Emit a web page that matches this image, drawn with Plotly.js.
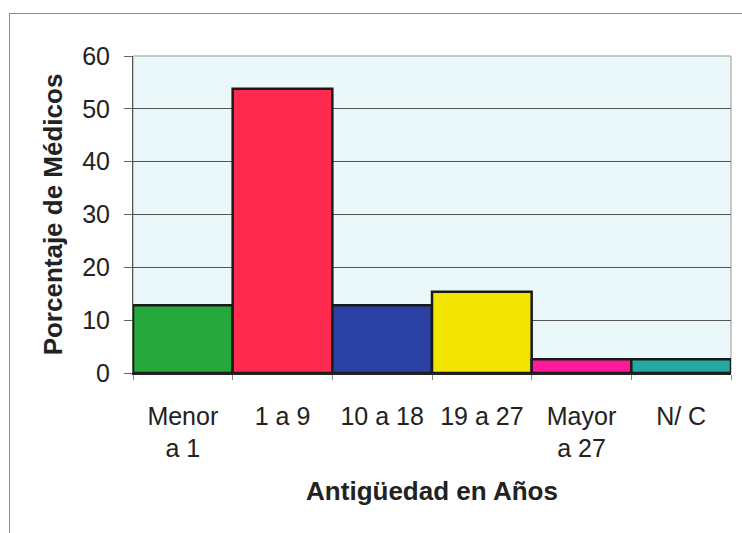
<!DOCTYPE html>
<html>
<head>
<meta charset="utf-8">
<script src="https://cdn.plot.ly/plotly-3.0.1.min.js"></script>
<style>
  html, body { margin:0; padding:0; background:#ffffff; overflow:hidden; }
  #frame { position:absolute; left:9px; top:13px; width:800px; height:600px; border:1px solid #8c8c8c; box-sizing:border-box; }
  #chart { position:absolute; left:0; top:0; width:742px; height:533px; }
</style>
</head>
<body>
<div id="frame"></div>
<div id="chart"></div>
<script>
const categories = ["Menor<br>a 1", "1 a 9", "10 a 18", "19 a 27", "Mayor<br>a 27", "N/ C"];
const porcentaje = [12.8, 53.8, 12.8, 15.4, 2.6, 2.6];
const barColors = ["#26a83c", "#ff2a50", "#2a40a2", "#f2e400", "#ff1a9a", "#22aaa2"];
const yTicks = [0, 10, 20, 30, 40, 50, 60];

const trace = {
  type: "bar",
  x: categories,
  y: porcentaje,
  width: 1,
  marker: { color: barColors, line: { color: "#1a1a1a", width: 2.5 } },
  hoverinfo: "none"
};

const layout = {
  width: 742, height: 533,
  margin: { l: 133, r: 11, t: 56, b: 160 },
  paper_bgcolor: "rgba(0,0,0,0)",
  plot_bgcolor: "#eaf8fa",
  showlegend: false,
  bargap: 0,
  font: { family: "Liberation Sans, Arial, sans-serif", color: "#222222" },
  xaxis: {
    type: "category",
    tickson: "boundaries",
    ticks: "outside", ticklen: 5, tickcolor: "#888888",
    showline: true, linecolor: "#222222", linewidth: 1.5,
    showgrid: false,
    tickfont: { size: 25, color: "#222222" },
    ticklabelstandoff: 20,
    title: { text: "<b>Antigüedad en Años</b>", font: { size: 26, color: "#222222" }, standoff: 21 },
    automargin: false,
    fixedrange: true
  },
  yaxis: {
    range: [0, 60],
    tickvals: yTicks,
    ticks: "outside", ticklen: 8, tickcolor: "#666666",
    showline: true, linecolor: "#555555", linewidth: 1,
    showgrid: true, gridcolor: "#555555", gridwidth: 1,
    zeroline: false,
    tickfont: { size: 25, color: "#222222" },
    ticklabelstandoff: 9,
    title: { text: "<b>Porcentaje de Médicos</b>", font: { size: 26, color: "#222222" }, standoff: 12 },
    automargin: false,
    fixedrange: true
  },
  shapes: [
    { type: "rect", xref: "paper", yref: "paper", x0: 0, x1: 1, y0: 0, y1: 1,
      line: { color: "#999999", width: 1 }, layer: "below" }
  ]
};

Plotly.newPlot("chart", [trace], layout, { staticPlot: true, displayModeBar: false });
</script>
</body>
</html>
